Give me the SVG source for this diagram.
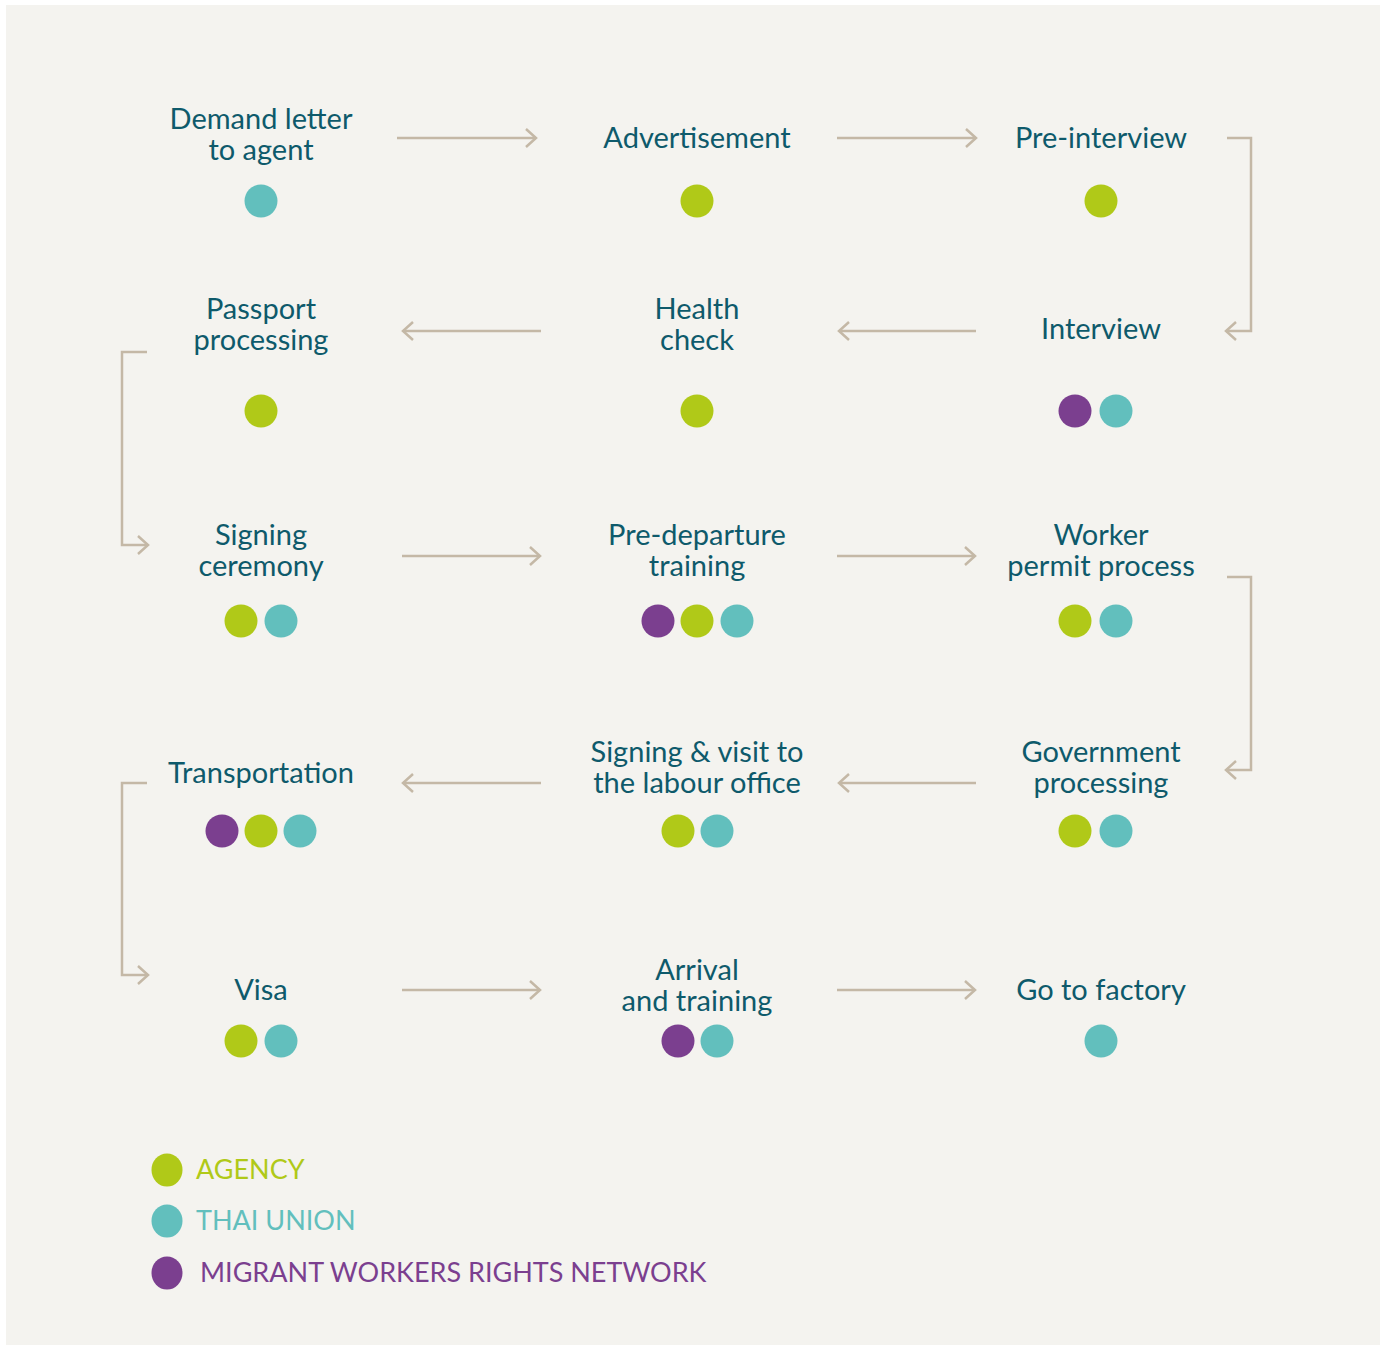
<svg xmlns="http://www.w3.org/2000/svg" width="1387" height="1346" viewBox="0 0 1387 1346">
<style>
.t{font-family:Lato,"Open Sans",sans-serif;font-size:29px;fill:#0e5a6b;text-anchor:middle}
.l{font-family:Lato,"Open Sans",sans-serif;font-size:27px}
.g{fill:#b0c918}.c{fill:#62bfbd}.p{fill:#7b3f8f}
.a{fill:none;stroke:#c4b8a6;stroke-width:2.5;marker-end:url(#ah)}
</style>
<defs>
<marker id="ah" markerUnits="userSpaceOnUse" markerWidth="24" markerHeight="24" viewBox="-12 -12 24 24" refX="0" refY="0" orient="auto">
<path d="M-10,-9 L0,0 L-10,9" fill="none" stroke="#c4b8a6" stroke-width="2.5"/>
</marker>
</defs>
<rect width="1387" height="1346" fill="#ffffff"/>
<rect x="6" y="5" width="1374" height="1340" fill="#f4f3ef"/>
<g id="connectors">
<path class="a" d="M397,138 H536"/>
<path class="a" d="M837,138 H976"/>
<path class="a" d="M1227,138 H1251 V331 H1226"/>
<path class="a" d="M976,331 H839"/>
<path class="a" d="M541,331 H403"/>
<path class="a" d="M147,352 H122 V545 H148"/>
<path class="a" d="M402,556 H540"/>
<path class="a" d="M837,556 H975"/>
<path class="a" d="M1227,577 H1251 V770 H1226"/>
<path class="a" d="M976,783 H839"/>
<path class="a" d="M541,783 H403"/>
<path class="a" d="M147,783 H122 V975 H148"/>
<path class="a" d="M402,990 H540"/>
<path class="a" d="M837,990 H975"/>
</g>
<g id="n1"><text class="t" x="261" y="129">Demand letter</text><text class="t" x="261" y="160">to agent</text><circle class="c" cx="261" cy="201" r="16.5"/></g>
<g id="n2"><text class="t" x="697" y="148">Advertisement</text><circle class="g" cx="697" cy="201" r="16.5"/></g>
<g id="n3"><text class="t" x="1101" y="148">Pre-interview</text><circle class="g" cx="1101" cy="201" r="16.5"/></g>
<g id="n4"><text class="t" x="1101" y="339">Interview</text><circle class="p" cx="1075" cy="411" r="16.5"/><circle class="c" cx="1116" cy="411" r="16.5"/></g>
<g id="n5"><text class="t" x="697" y="319">Health</text><text class="t" x="697" y="350">check</text><circle class="g" cx="697" cy="411" r="16.5"/></g>
<g id="n6"><text class="t" x="261" y="319">Passport</text><text class="t" x="261" y="350">processing</text><circle class="g" cx="261" cy="411" r="16.5"/></g>
<g id="n7"><text class="t" x="261" y="545">Signing</text><text class="t" x="261" y="576">ceremony</text><circle class="g" cx="241" cy="621" r="16.5"/><circle class="c" cx="281" cy="621" r="16.5"/></g>
<g id="n8"><text class="t" x="697" y="545">Pre-departure</text><text class="t" x="697" y="576">training</text><circle class="p" cx="658" cy="621" r="16.5"/><circle class="g" cx="697" cy="621" r="16.5"/><circle class="c" cx="737" cy="621" r="16.5"/></g>
<g id="n9"><text class="t" x="1101" y="545">Worker</text><text class="t" x="1101" y="576">permit process</text><circle class="g" cx="1075" cy="621" r="16.5"/><circle class="c" cx="1116" cy="621" r="16.5"/></g>
<g id="n10"><text class="t" x="1101" y="762">Government</text><text class="t" x="1101" y="793">processing</text><circle class="g" cx="1075" cy="831" r="16.5"/><circle class="c" cx="1116" cy="831" r="16.5"/></g>
<g id="n11"><text class="t" x="697" y="762">Signing &amp; visit to</text><text class="t" x="697" y="793">the labour office</text><circle class="g" cx="678" cy="831" r="16.5"/><circle class="c" cx="717" cy="831" r="16.5"/></g>
<g id="n12"><text class="t" x="261" y="783">Transportation</text><circle class="p" cx="222" cy="831" r="16.5"/><circle class="g" cx="261" cy="831" r="16.5"/><circle class="c" cx="300" cy="831" r="16.5"/></g>
<g id="n13"><text class="t" x="261" y="1000">Visa</text><circle class="g" cx="241" cy="1041" r="16.5"/><circle class="c" cx="281" cy="1041" r="16.5"/></g>
<g id="n14"><text class="t" x="697" y="980">Arrival</text><text class="t" x="697" y="1011">and training</text><circle class="p" cx="678" cy="1041" r="16.5"/><circle class="c" cx="717" cy="1041" r="16.5"/></g>
<g id="n15"><text class="t" x="1101" y="1000">Go to factory</text><circle class="c" cx="1101" cy="1041" r="16.5"/></g>
<g id="legend">
<ellipse class="g" cx="167" cy="1170" rx="15.5" ry="16.5"/><text class="l g" x="196" y="1179">AGENCY</text>
<ellipse class="c" cx="167" cy="1221" rx="15.5" ry="16.5"/><text class="l c" x="196" y="1230">THAI UNION</text>
<ellipse class="p" cx="167" cy="1273" rx="15.5" ry="16.5"/><text class="l p" x="200" y="1282">MIGRANT WORKERS RIGHTS NETWORK</text>
</g>
</svg>
